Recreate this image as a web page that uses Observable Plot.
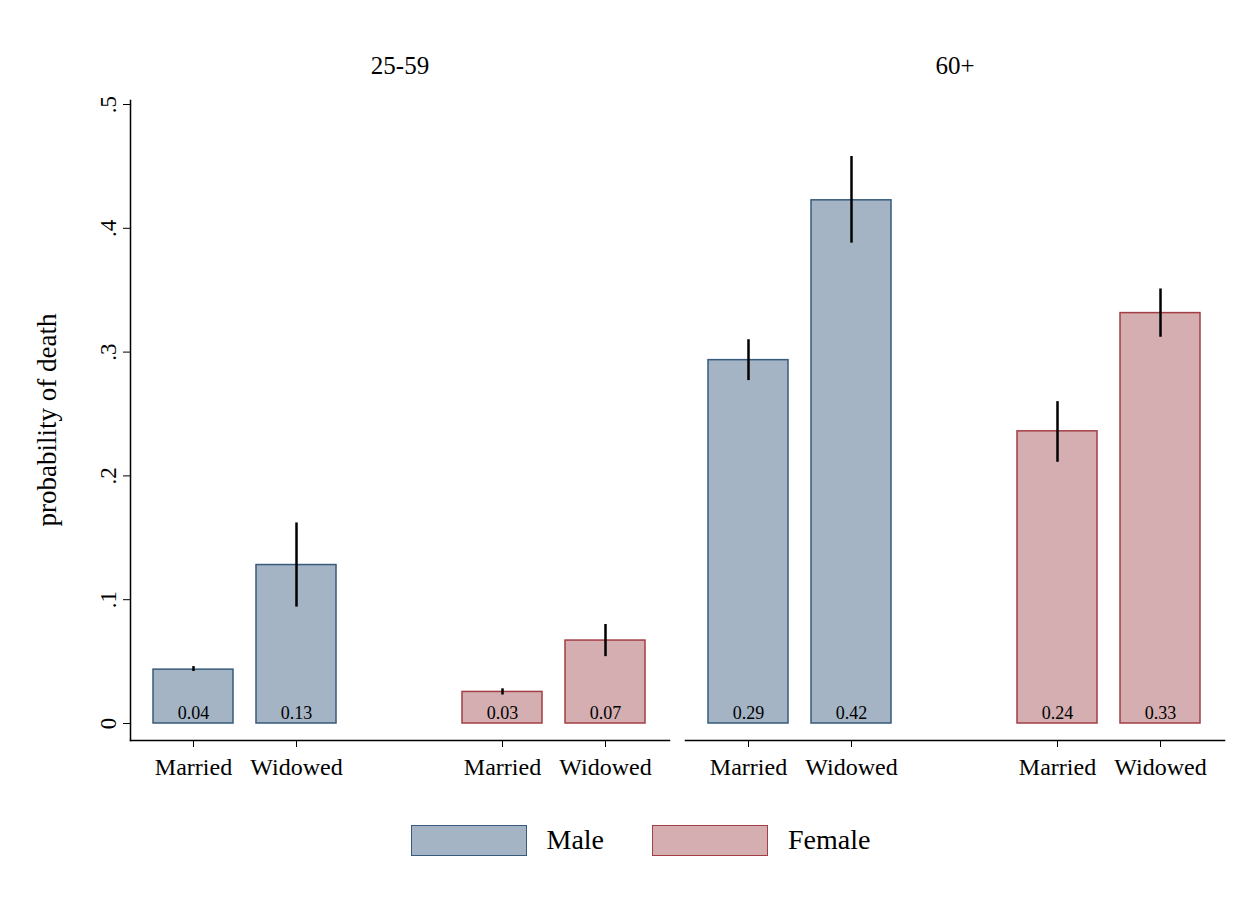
<!DOCTYPE html>
<html>
<head>
<meta charset="utf-8">
<script src="https://cdn.jsdelivr.net/npm/d3@7"></script>
<script src="https://cdn.jsdelivr.net/npm/@observablehq/plot@0.6"></script>
<style>
  body { margin: 0; background: #fff; font-family: "Liberation Serif", serif; }
  .legend { display: flex; justify-content: center; gap: 48px; margin-top: 24px; margin-left: 30px; font-size: 28px; }
  .legend span { display: inline-flex; align-items: center; gap: 20px; }
  .legend i { display: inline-block; width: 116px; height: 31px; box-sizing: border-box; }
</style>
</head>
<body>
<div id="chart"></div>
<script>
const ages = ["25-59", "60+"];
const sexes = ["Male", "Female"];
const statuses = ["Married", "Widowed"];
// per age group: Male Married, Male Widowed, Female Married, Female Widowed
const prob = [[0.0435, 0.128, 0.0255, 0.067], [0.2935, 0.4226, 0.236, 0.3315]];
const lo = [[0.042, 0.094, 0.023, 0.054], [0.277, 0.388, 0.211, 0.312]];
const hi = [[0.046, 0.162, 0.028, 0.080], [0.310, 0.458, 0.260, 0.351]];
const fills = { Male: "#a4b4c4", Female: "#d4aeb0" };
const strokes = { Male: "#365b7c", Female: "#a33e44" };

const rows = [];
ages.forEach((age, a) => {
  sexes.forEach((sex, s) => {
    statuses.forEach((status, k) => {
      const i = s * 2 + k;
      rows.push({ age, sex, status, key: `${sex}|${status}`, p: prob[a][i], lo: lo[a][i], hi: hi[a][i] });
    });
  });
});

const xDomain = ["Male|Married", "Male|Widowed", "gap", "Female|Married", "Female|Widowed"];

const chart = Plot.plot({
  width: 1251,
  height: 800,
  marginLeft: 130,
  marginRight: 26,
  marginTop: 100,
  marginBottom: 60,
  style: { fontFamily: "Liberation Serif, serif", fontSize: "22px", color: "#000" },
  fx: { domain: ages, padding: 0.028, label: null, axis: null },
  x: { domain: xDomain, padding: 0.22, label: null, axis: null },
  y: { domain: [0, 0.5], insetBottom: 17, insetTop: 4, label: null, axis: null },
  marks: [
    Plot.axisFx({ anchor: "top", label: null, tickSize: 0, fontSize: 25, dy: -18 }),
    Plot.axisX({ tickSize: 7, tickFormat: (d) => d.split("|")[1], fontSize: 24, tickPadding: 10, filter: (d) => d !== "gap" }),
    Plot.axisY({ ticks: [0, 0.1, 0.2, 0.3, 0.4, 0.5], tickFormat: (d) => (d === 0 ? "0" : d3.format(".1f")(d).replace(/^0/, "")), tickSize: 7, tickRotate: -90, fontSize: 23, tickPadding: 8, label: null, facetAnchor: "left" }),
    Plot.frame({ anchor: "bottom", strokeWidth: 1.5 }),
    Plot.frame({ anchor: "left", strokeWidth: 1.5, facetAnchor: "left" }),
    Plot.barY(rows, { fx: "age", x: "key", y: "p", fill: (d) => fills[d.sex], stroke: (d) => strokes[d.sex], strokeWidth: 1.5 }),
    Plot.ruleX(rows, { fx: "age", x: "key", y1: "lo", y2: "hi", stroke: "#000", strokeWidth: 2.5 }),
    Plot.text(rows, { fx: "age", x: "key", y: 0, dy: -10, text: (d) => d3.format(".2f")(d.p), fontSize: 18, fill: "#000" })
  ]
});
document.getElementById("chart").append(chart);

// y label
const svg = d3.select(chart);
svg.append("text")
  .attr("transform", "translate(56,420) rotate(-90)")
  .attr("text-anchor", "middle")
  .attr("font-size", 27)
  .attr("font-family", "Liberation Serif, serif")
  .text("probability of death");

const legend = document.createElement("div");
legend.className = "legend";
sexes.forEach((s) => {
  const span = document.createElement("span");
  span.innerHTML = `<i style="background:${fills[s]};border:1.5px solid ${strokes[s]}"></i>${s}`;
  legend.append(span);
});
document.body.append(legend);
</script>
</body>
</html>
